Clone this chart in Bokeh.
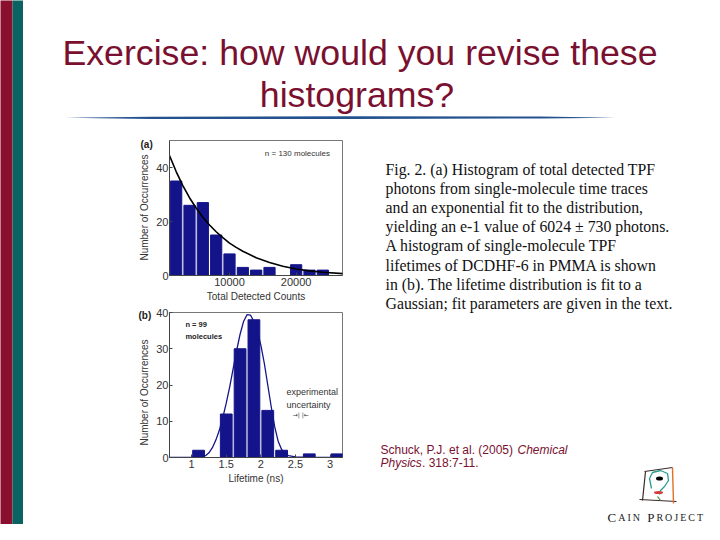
import math
from bokeh.plotting import figure
from bokeh.models import Range1d, FixedTicker, Label
from bokeh.layouts import row, column
from bokeh.embed import file_html
from bokeh.resources import INLINE
from bokeh.core.properties import value

# ---------------- data ----------------
count_bin_centers = [2000, 4000, 6000, 8000, 10000, 12000, 14000, 16000, 18000, 20000, 22000, 24000]
count_occurrences = [35, 26, 27, 15, 8, 3, 2, 3, 0, 4, 2, 2]
count_fit_x = [1000, 2000, 3000, 4000, 5000, 6000, 7000, 8000, 9000, 10000, 11000, 12000,
               14000, 16000, 18000, 20000, 22000, 24000, 27000]
count_fit_y = [44.4, 38.5, 33.3, 28.8, 25.0, 21.6, 18.7, 16.2, 14.0, 12.0, 10.4, 9.0,
               6.6, 4.8, 3.4, 2.4, 1.7, 1.2, 0.7]
count_xticks = [10000, 20000]
count_yticks = [0, 20, 40]

life_bin_centers = [0.9, 1.1, 1.3, 1.5, 1.7, 1.9, 2.1, 2.3, 2.5, 2.7, 2.9, 3.1]
life_occurrences = [0, 2, 0, 12, 30, 38, 13, 2, 0, 1, 0, 1]
life_fit_x = [0.68, 1.0, 1.1, 1.2, 1.25, 1.3, 1.35, 1.4, 1.45, 1.5, 1.55, 1.6, 1.65, 1.7,
              1.75, 1.8, 1.85, 1.9, 1.95, 2.0, 2.05, 2.1, 2.15, 2.2, 2.25, 2.3, 2.35, 2.4,
              2.5, 2.7, 3.18]
life_fit_y = [0.0, 0.05, 0.15, 0.5, 1.3, 2.7, 4.8, 7.5, 11.0, 15.0, 19.5, 24.5, 29.5, 34.0,
              37.5, 39.4, 39.3, 37.5, 35.0, 31.0, 26.0, 20.0, 14.0, 8.5, 4.5, 2.2, 1.0, 0.5,
              0.2, 0.05, 0.0]
life_xticks = [1, 1.5, 2, 2.5, 3]
life_yticks = [0, 10, 20, 30, 40]

title_lines = ["Exercise: how would you revise these", "histograms?"]
caption_lines = [
    "Fig. 2. (a) Histogram of total detected TPF",
    "photons from single-molecule time traces",
    "and an exponential fit to the distribution,",
    "yielding an e-1 value of 6024 \u00b1 730 photons.",
    "A histogram of single-molecule TPF",
    "lifetimes of DCDHF-6 in PMMA is shown",
    "in (b). The lifetime distribution is fit to a",
    "Gaussian; fit parameters are given in the text.",
]
y_label = "Number of Occurrences"

MAROON = "#7a1030"
STRIP_RED = "#8a0f2e"
STRIP_TEAL = "#0b6262"
NAVY = "#14148a"
SANS = "Liberation Sans"
SERIF = "Liberation Serif"


def canvas(w, h, x0, x1, y_top, y_bot):
    p = figure(width=w, height=h, x_range=Range1d(x0, x1), y_range=Range1d(y_bot, y_top),
               output_backend="svg", toolbar_location=None, min_border=0,
               x_axis_location=None, y_axis_location=None)
    p.grid.visible = False
    p.outline_line_color = None
    p.background_fill_color = "white"
    p.border_fill_color = "white"
    return p


def style_hist(p, xt, yt, xlabel):
    p.grid.visible = False
    p.xaxis.ticker = FixedTicker(ticks=xt)
    p.yaxis.ticker = FixedTicker(ticks=yt)
    p.xaxis.axis_label = xlabel
    for ax in p.axis:
        ax.major_tick_in = 3
        ax.major_tick_out = 0
        ax.minor_tick_line_color = None
        ax.axis_line_color = "#444444"
        ax.major_tick_line_color = "#444444"
        ax.major_label_text_font = SANS
        ax.major_label_text_font_size = "11px"
        ax.major_label_text_color = "#333333"
        ax.major_label_standoff = 2
        ax.axis_label_standoff = 2
        ax.axis_label_text_font = SANS
        ax.axis_label_text_font_size = "10px"
        ax.axis_label_text_font_style = "normal"
        ax.axis_label_text_color = "#333333"
    p.yaxis.major_label_standoff = 1
    p.outline_line_color = "#777777"
    p.background_fill_color = "white"
    p.border_fill_color = "white"


# ---------------- full-height side strips ----------------
strips = canvas(23, 524, 0, 23, 0, 524)
strips.quad(left=-2, right=12, top=-5, bottom=530, fill_color=STRIP_RED, line_color=None)
strips.quad(left=12, right=25, top=-5, bottom=530, fill_color=STRIP_TEAL, line_color=None)

# ---------------- top band: title ----------------
top = canvas(681, 130, 23, 704, 0, 130)
top.text(x=[359.5, 356.5], y=[52, 94], text=title_lines, text_align="center",
         text_baseline="alphabetic", text_font=value(SANS), text_font_size="35.7px",
         text_color=MAROON)
top.patch(x=[65, 150, 350, 540, 615, 540, 350, 150],
          y=[117.3, 116.2, 115.8, 116.0, 117.2, 118.0, 118.4, 118.4],
          fill_color="#23528e", line_color=None)

# ---------------- left band: y labels, panel letters ----------------
left = canvas(130, 394, 23, 153, 130, 524)
left.text(x=[144, 144], y=[207, 392], text=[y_label, y_label], angle=math.pi / 2,
          text_align="center", text_baseline="middle", text_font=value(SANS),
          text_font_size="10px", text_color="#333333")
left.text(x=[140, 138], y=[144, 315], text=["(a)", "(b)"], text_align="left",
          text_baseline="middle", text_font=value(SANS), text_font_size="10px",
          text_font_style="bold", text_color="#222222")

# ---------------- histogram (a) ----------------
pa = figure(width=194, height=174, x_range=Range1d(1000, 26950), y_range=Range1d(0, 50),
            output_backend="svg", toolbar_location=None,
            min_border_left=14, min_border_right=5, min_border_top=10, min_border_bottom=28)
pa.vbar(x=count_bin_centers, top=count_occurrences, width=1680, fill_color=NAVY, line_color=NAVY)
pa.line(count_fit_x, count_fit_y, line_color="black", line_width=1.6)
style_hist(pa, count_xticks, count_yticks, "Total Detected Counts")
pa.add_layout(Label(x=15300, y=45.2, text="n = 130 molecules", text_font=SANS,
                    text_font_size="8px", text_baseline="middle", text_color="#333333"))

# ---------------- histogram (b) ----------------
pb = figure(width=194, height=186, x_range=Range1d(0.68, 3.18), y_range=Range1d(0, 40),
            output_backend="svg", toolbar_location=None,
            min_border_left=14, min_border_right=5, min_border_top=8, min_border_bottom=33)
pb.vbar(x=life_bin_centers, top=life_occurrences, width=0.17, fill_color=NAVY, line_color=NAVY)
pb.line(life_fit_x, life_fit_y, line_color=NAVY, line_width=1.3)
style_hist(pb, life_xticks, life_yticks, "Lifetime (ns)")
pb.add_layout(Label(x=0.91, y=36.7, text="n = 99", text_font=SANS, text_font_size="7.5px",
                    text_font_style="bold", text_baseline="middle", text_color="#222222"))
pb.add_layout(Label(x=0.91, y=33.3, text="molecules", text_font=SANS, text_font_size="7.5px",
                    text_font_style="bold", text_baseline="middle", text_color="#222222"))
pb.add_layout(Label(x=2.37, y=18.0, text="experimental", text_font=SANS, text_font_size="9px",
                    text_baseline="middle", text_color="#333333"))
pb.add_layout(Label(x=2.37, y=14.6, text="uncertainty", text_font=SANS, text_font_size="9px",
                    text_baseline="middle", text_color="#333333"))
pb.add_layout(Label(x=2.46, y=12.0, text="\u2192| |\u2190", text_font="DejaVu Sans",
                    text_font_size="6px", text_baseline="middle", text_color="#333333"))

spacer = canvas(194, 34, 153, 347, 490, 524)
hist_col = column(pa, pb, spacer)

# ---------------- right band: caption, citation, logo ----------------
right = canvas(357, 394, 347, 704, 130, 524)
cap_y = [169 + 19.1 * i for i in range(len(caption_lines))]
right.text(x=[385] * len(caption_lines), y=cap_y, text=caption_lines, text_align="left",
           text_baseline="alphabetic", text_font=value(SERIF), text_font_size="15.8px",
           text_color="#111111")
right.text(x=[380], y=[449], text=["Schuck, P.J. et al. (2005)"], text_baseline="alphabetic",
           text_font=value(SANS), text_font_size="12px", text_color=MAROON)
right.text(x=[517], y=[449], text=["Chemical"], text_baseline="alphabetic",
           text_font=value(SANS), text_font_size="12px", text_font_style="italic", text_color=MAROON)
right.text(x=[380], y=[462], text=["Physics"], text_baseline="alphabetic",
           text_font=value(SANS), text_font_size="12px", text_font_style="italic", text_color=MAROON)
right.text(x=[421.5], y=[462], text=[". 318:7-11."], text_baseline="alphabetic",
           text_font=value(SANS), text_font_size="12px", text_color=MAROON)

# logo sketch
right.multi_line(xs=[[644, 672], [645, 642], [639, 676]], ys=[[471, 467], [471, 500], [499, 501]],
                 line_color="#3a2a2a", line_width=1.2)
right.line(x=[672, 673], y=[467, 503], line_color="#e0702a", line_width=1.4)
right.line(x=[651, 649, 652, 660, 667, 668, 664, 660, 659],
           y=[488, 478, 472, 470, 473, 480, 486, 490, 494], line_color="#2a9d8f", line_width=1.3)
right.ellipse(x=[659], y=[478], width=7, height=4, fill_color="black", line_color=None)
right.ellipse(x=[658], y=[492], width=9, height=3, fill_color="#d83a3a", line_color=None)
right.line(x=[657, 660], y=[496, 500], line_color="#3a8a3a", line_width=1.2)

letters = [("C", 13, 0.667), ("A", 10, 0.722), ("I", 10, 0.333), ("N", 10, 0.722), (" ", 13, 0.25),
           ("P", 13, 0.556), ("R", 10, 0.667), ("O", 10, 0.722), ("J", 10, 0.389), ("E", 10, 0.611),
           ("C", 10, 0.667), ("T", 10, 0.611)]
lx = 607.0
for ch, sz, w in letters:
    if ch != " ":
        right.text(x=[lx], y=[517], text=[ch], text_baseline="alphabetic",
                   text_font=value(SERIF), text_font_size=f"{sz}px", text_color="#222222")
    lx += sz * w + 2.0

layout = row(strips, column(top, row(left, hist_col, right)))
open("out.html", "w").write(file_html(layout, INLINE))
